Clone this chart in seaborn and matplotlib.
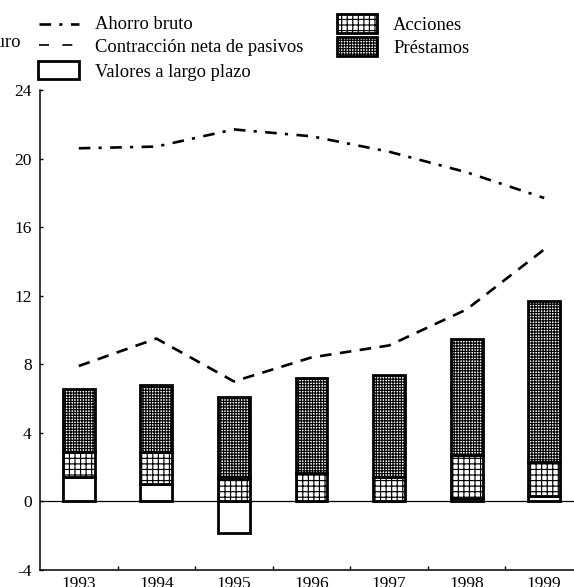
import numpy as np
import pandas as pd
import matplotlib
matplotlib.use("Agg")
import matplotlib.pyplot as plt
from matplotlib.lines import Line2D
from matplotlib.patches import Rectangle
from matplotlib.ticker import FixedLocator
import seaborn as sns

# Data (mm de euro)
years = ["1993", "1994", "1995", "1996", "1997", "1998", "1999"]
ahorro_bruto = [20.6, 20.7, 21.7, 21.3, 20.4, 19.2, 17.7]
contraccion_pasivos = [7.9, 9.5, 7.0, 8.4, 9.1, 11.2, 14.7]
valores_largo_plazo = [1.4, 1.0, -1.85, 0.05, 0.05, 0.2, 0.3]
acciones = [1.5, 1.9, 1.35, 1.6, 1.4, 2.5, 2.0]
prestamos = [3.65, 3.9, 4.75, 5.55, 5.95, 6.8, 9.4]
y_ticks = [-4, 0, 4, 8, 12, 16, 20, 24]

sns.set_style("ticks")
plt.rcParams["font.family"] = ["Liberation Serif", "DejaVu Serif"]
plt.rcParams["hatch.linewidth"] = 0.85

W, H = 574, 587
fig = plt.figure(figsize=(W / 100, H / 100), dpi=100)


def fx(px):
    return px / W


def fy(py):
    return 1 - py / H


ax = fig.add_axes([fx(40), fy(570), fx(543), fy(90) - fy(570)])

df = pd.DataFrame({
    "year": years,
    "valores": valores_largo_plazo,
    "acciones": acciones,
    "prestamos": prestamos,
})
bottom_acc = np.maximum(np.array(valores_largo_plazo), 0)
bottom_pre = bottom_acc + np.array(acciones)

bar_kw = dict(color="white", edgecolor="black", linewidth=2.0, width=0.41,
              saturation=1, errorbar=None, ax=ax)
sns.barplot(data=df, x="year", y="valores", **bar_kw)
sns.barplot(data=df, x="year", y="acciones", bottom=bottom_acc, hatch="+++", **bar_kw)
sns.barplot(data=df, x="year", y="prestamos", bottom=bottom_pre, hatch="++++++", **bar_kw)

dashdot = (0, (4.4, 3.1, 1.2, 3.2))
dashed = (0, (4.4, 3.2))
sns.lineplot(x=years, y=ahorro_bruto, color="black", linewidth=1.9,
             linestyle=dashdot, ax=ax)
sns.lineplot(x=years, y=contraccion_pasivos, color="black", linewidth=1.9,
             linestyle=dashed, ax=ax)

ax.axhline(0, color="black", linewidth=0.9, zorder=1)

ax.set_xlim(-0.5, 6.5)
ax.set_ylim(-4, 24)
ax.set_yticks(y_ticks)
ax.set_yticklabels([str(v) for v in y_ticks])
ax.set_xlabel("")
ax.set_ylabel("")

for s in ["top", "right"]:
    ax.spines[s].set_visible(False)
for s in ["left", "bottom"]:
    ax.spines[s].set_linewidth(1.1)
    ax.spines[s].set_color("black")

ax.tick_params(axis="y", direction="in", length=2.5, width=1, labelsize=12.5,
               pad=6, colors="black")
ax.tick_params(axis="x", which="major", length=0, labelsize=12.5, pad=4,
               colors="black")
ax.xaxis.set_minor_locator(FixedLocator(np.arange(0.5, 6.5, 1.0)))
ax.tick_params(axis="x", which="minor", direction="in", length=3, width=1,
               colors="black")

# Legend drawn in figure pixel positions
txt_kw = dict(fontsize=13.3, va="baseline", ha="left", color="black")
fig.add_artist(Line2D([fx(39), fx(79)], [fy(24), fy(24)], color="black",
                      linewidth=1.9, linestyle=dashdot, transform=fig.transFigure))
fig.text(fx(95), fy(29), "Ahorro bruto", **txt_kw)
fig.add_artist(Line2D([fx(39), fx(79)], [fy(45), fy(45)], color="black",
                      linewidth=1.2, linestyle=(0, (6, 8)), transform=fig.transFigure))
fig.text(fx(95), fy(52), "Contracción neta de pasivos", **txt_kw)
fig.add_artist(Rectangle((fx(38), fy(79)), fx(41), fy(61) - fy(79),
                         facecolor="white", edgecolor="black", linewidth=2.0,
                         transform=fig.transFigure))
fig.text(fx(95), fy(77), "Valores a largo plazo", **txt_kw)

fig.add_artist(Rectangle((fx(337), fy(33)), fx(40), fy(14) - fy(33),
                         facecolor="white", edgecolor="black", linewidth=2.0,
                         hatch="+++", transform=fig.transFigure))
fig.text(fx(393), fy(30), "Acciones", **txt_kw)
fig.add_artist(Rectangle((fx(337), fy(56)), fx(40), fy(37) - fy(56),
                         facecolor="white", edgecolor="black", linewidth=2.0,
                         hatch="++++++", transform=fig.transFigure))
fig.text(fx(393), fy(53), "Préstamos", **txt_kw)

fig.text(fx(20), fy(47), "mm de euro", **{**txt_kw, "ha": "right"})

fig.savefig("out.png", dpi=100)
